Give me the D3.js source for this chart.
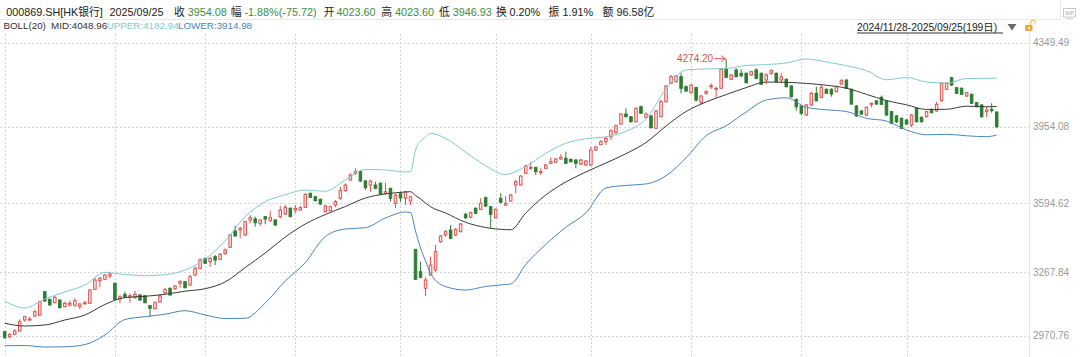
<!DOCTYPE html>
<html><head><meta charset="utf-8">
<script src="https://cdn.jsdelivr.net/npm/d3@7"></script>
<style>
body{margin:0;background:#fff;}
svg{display:block;font-family:Arial,"Liberation Sans","Noto Sans CJK SC",sans-serif;}
</style>
</head><body>
<svg id="c" width="1080" height="357"></svg>
<script>
// ---- DATA ----
const opens = [2989.1,2965.6,2976.9,2992.4,3044.2,3044.2,3063.0,3067.7,3177.4,3141.6,
3125.6,3138.3,3106.8,3114.8,3113.4,3106.8,3120.9,3122.8,3188.7,3229.2,
3235.8,3251.3,3217.0,3143.0,3165.2,3151.1,3149.2,3161.9,3158.6,3111.5,
3097.4,3130.3,3172.7,3193.4,3191.5,3217.0,3224.5,3208.9,3256.0,3287.6,
3334.6,3318.6,3342.2,3329.9,3358.2,3386.4,3463.1,3467.8,3444.3,3514.9,
3519.6,3499.4,3530.4,3511.6,3514.9,3530.4,3543.2,3570.0,3562.0,3562.0,
3574.7,3640.6,3624.6,3612.4,3554.0,3558.7,3585.5,3617.1,3652.8,3703.2,
3734.7,3742.3,3698.5,3679.7,3679.7,3687.7,3640.6,3664.1,3593.5,3638.7,
3617.1,3604.4,3377.0,3271.5,3193.4,3256.0,3279.6,3412.8,3444.3,3467.8,
3444.3,3459.8,3541.7,3527.6,3570.0,3565.3,3619.9,3577.5,3525.7,3617.1,
3585.5,3604.4,3679.7,3679.7,3734.7,3758.3,3763.0,3737.6,3758.3,3781.8,
3786.5,3802.1,3805.4,3800.6,3797.4,3778.5,3773.8,3773.8,3844.4,3869.4,
3883.5,3907.0,3925.9,3966.8,4013.9,4001.2,3977.6,4048.2,3998.4,4004.5,
3946.6,4001.2,4071.8,4158.4,4165.9,4189.5,4142.4,4114.1,4137.7,4067.1,
4111.3,4142.4,4130.1,4134.9,4224.3,4177.2,4221.0,4205.5,4205.5,4197.5,
4221.0,4205.5,4173.9,4205.5,4205.5,4173.9,4177.2,4145.7,4082.1,4051.5,
4009.2,4056.2,4111.3,4092.5,4130.1,4130.1,4118.8,4155.1,4173.9,4130.1,
4051.5,4028.0,4009.2,4059.5,4075.1,4092.5,4075.1,4024.7,4004.5,3993.6,
3985.6,3962.1,4040.7,3998.4,4001.2,4029.4,4028.0,4076.5,4130.1,4184.8,
4137.7,4134.9,4098.6,4106.6,4067.1,4056.2,4024.7,4036.0,4023.60];
const highs = [2991.5,2981.6,3001.8,3047.5,3064.4,3059.7,3091.3,3135.0,3180.0,3145.0,
3157.2,3141.0,3130.3,3135.0,3146.3,3125.6,3133.6,3188.7,3243.3,3248.0,
3259.3,3271.5,3219.8,3161.9,3177.4,3169.9,3180.7,3166.6,3161.9,3114.8,
3130.3,3166.6,3193.4,3196.2,3208.9,3232.5,3227.8,3256.0,3295.1,3334.6,
3337.4,3342.2,3350.2,3359.6,3381.7,3449.0,3486.7,3483.4,3511.6,3538.5,
3530.4,3518.2,3533.7,3558.7,3518.2,3580.8,3585.5,3573.8,3585.5,3580.8,
3640.6,3643.4,3628.0,3615.0,3585.5,3582.0,3609.1,3671.7,3687.7,3734.7,
3758.3,3750.5,3703.2,3703.2,3695.2,3691.5,3690.5,3665.5,3640.6,3648.1,
3651.4,3625.5,3378.4,3318.6,3245.2,3342.2,3397.2,3444.3,3467.8,3491.4,
3475.8,3500.8,3548.0,3554.0,3573.8,3617.1,3625.5,3580.8,3569.0,3640.6,
3627.9,3637.3,3703.2,3725.3,3773.8,3789.3,3764.4,3758.3,3778.5,3810.1,
3806.8,3824.2,3836.4,3804.4,3800.6,3802.1,3797.4,3860.0,3863.2,3891.5,
3907.0,3941.9,3964.5,4018.6,4040.7,4004.0,4044.5,4053.9,4020.0,4009.2,
4032.7,4079.8,4150.4,4197.5,4195.1,4205.5,4148.0,4155.1,4142.4,4103.3,
4126.9,4158.4,4142.4,4228.0,4274.20,4202.2,4230.4,4224.3,4209.0,4217.7,
4229.0,4209.0,4205.5,4224.3,4209.0,4208.3,4181.0,4148.0,4087.8,4056.2,
4061.0,4118.8,4142.4,4150.4,4133.9,4134.9,4148.0,4178.6,4176.3,4133.9,
4056.2,4032.7,4049.2,4067.1,4079.8,4101.0,4079.8,4028.0,4009.2,3997.4,
3990.3,4013.9,4044.5,4002.1,4029.4,4040.7,4071.8,4161.2,4161.2,4188.0,
4141.0,4138.6,4117.4,4110.4,4070.4,4061.0,4048.2,4064.2,4023.60];
const lows = [2958.0,2958.0,2972.2,2989.1,3036.2,3039.5,3059.7,3063.0,3130.0,3112.0,
3122.8,3099.0,3104.0,3106.8,3106.8,3094.6,3114.8,3119.5,3185.4,3198.1,
3232.5,3240.5,3138.3,3122.8,3146.3,3125.6,3143.0,3135.0,3122.8,3059.7,
3094.6,3125.6,3166.6,3158.6,3185.4,3196.2,3193.4,3204.2,3251.3,3282.9,
3307.8,3295.1,3303.1,3326.6,3350.2,3383.1,3436.3,3428.8,3439.6,3499.4,
3483.4,3486.7,3494.7,3506.9,3488.1,3522.9,3538.5,3529.0,3546.5,3557.3,
3571.4,3618.5,3602.0,3585.5,3550.0,3556.0,3574.7,3609.1,3648.1,3699.9,
3726.7,3693.8,3656.1,3648.1,3659.4,3632.6,3632.6,3601.1,3570.0,3601.1,
3585.5,3585.5,3232.5,3240.5,3157.2,3253.7,3271.5,3408.0,3436.3,3424.1,
3439.6,3457.0,3519.6,3524.3,3543.2,3562.0,3576.0,3475.8,3522.9,3593.5,
3580.8,3601.1,3640.6,3677.3,3731.2,3750.3,3726.7,3726.7,3755.0,3778.5,
3783.2,3797.4,3778.5,3785.6,3758.3,3773.8,3769.1,3769.1,3839.7,3867.9,
3867.9,3891.5,3922.0,3962.1,3998.0,3974.0,3974.0,4013.9,3993.6,3945.6,
3943.3,3998.4,4068.0,4155.1,4162.2,4111.3,4117.4,4110.4,4071.8,4059.5,
4103.3,4130.1,4092.5,4131.6,4181.9,4173.9,4185.7,4186.6,4157.5,4192.8,
4177.2,4150.4,4153.7,4197.5,4162.2,4158.4,4138.6,4091.5,4029.4,4009.2,
4004.5,4051.5,4071.8,4087.8,4108.0,4095.3,4115.1,4150.4,4131.6,4056.2,
3999.8,4009.2,4004.5,4045.4,4056.2,4056.2,4004.5,3966.8,3971.5,3943.3,
3962.1,3951.3,3974.0,3974.0,3997.4,4017.2,4024.7,4071.8,4126.9,4145.7,
4108.0,4103.3,4093.9,4061.0,4044.5,3997.4,3998.4,4020.0,3946.93];
const closes = [2960.9,2976.9,2992.4,3036.2,3059.7,3048.9,3083.3,3130.3,3133.6,3114.8,
3151.1,3102.1,3122.8,3122.8,3135.0,3119.5,3125.6,3185.4,3232.5,3240.5,
3256.0,3260.7,3141.6,3153.9,3153.9,3158.6,3165.2,3138.3,3125.6,3099.3,
3127.5,3157.2,3188.7,3161.9,3204.2,3224.5,3196.2,3248.0,3287.6,3326.6,
3311.1,3334.6,3326.6,3353.5,3373.7,3444.3,3439.6,3475.8,3506.9,3525.7,
3502.2,3514.9,3519.6,3525.7,3491.4,3562.0,3574.7,3530.4,3570.0,3572.8,
3635.9,3621.8,3605.8,3590.2,3580.8,3577.5,3601.1,3652.8,3679.7,3726.7,
3742.3,3698.5,3667.0,3698.5,3664.1,3637.3,3648.1,3617.1,3632.6,3618.5,
3648.1,3624.6,3235.8,3245.2,3232.5,3303.1,3365.7,3439.6,3459.8,3428.8,
3471.1,3496.1,3525.7,3549.3,3546.5,3593.5,3580.8,3541.7,3565.3,3598.2,
3593.5,3632.6,3695.2,3722.0,3769.1,3763.0,3742.3,3742.3,3773.8,3789.3,
3802.1,3810.1,3781.8,3789.3,3781.8,3797.4,3792.7,3844.4,3858.5,3883.5,
3899.5,3935.3,3958.8,4013.9,4001.2,3977.6,4040.7,4017.2,4013.9,3949.4,
4028.0,4071.8,4145.7,4189.5,4192.8,4134.9,4122.1,4150.4,4079.8,4098.6,
4118.8,4147.1,4134.9,4224.3,4186.6,4197.5,4189.5,4194.2,4161.2,4213.0,
4181.9,4153.7,4197.5,4217.7,4165.9,4189.5,4142.4,4095.3,4048.2,4017.2,
4056.2,4111.3,4076.5,4139.6,4111.3,4108.0,4142.4,4170.6,4134.9,4061.0,
4004.5,4013.9,4045.4,4064.2,4061.0,4059.5,4009.2,3970.1,3977.6,3946.6,
3966.8,4009.2,3977.6,3977.6,4024.7,4020.0,4059.5,4158.4,4158.4,4150.4,
4111.3,4106.6,4114.1,4064.2,4048.2,4001.2,4032.7,4029.80,3954.08];

// BOLL(20) readings at selected candle positions
const bollIdx = [0,4,8,12,16,20,24,28,32,36,40,44,48,52,56,60,64,68,72,76,80,81,82,83,84,85,88,92,96,100,101,104,108,112,116,120,124,128,132,136,140,144,148,152,156,160,164,168,172,176,180,184,188,192,196,198];
const bollUpper = [3133.6,3100.7,3143.0,3176.0,3208.9,3267.8,3258.4,3252.7,3257.4,3279.6,3331.3,3416.1,3530.4,3601.1,3633.5,3656.1,3650.0,3703.2,3752.6,3750.3,3740.9,3742.3,3844.4,3886.8,3905.6,3923.0,3899.0,3834.1,3770.5,3728.2,3733.8,3766.8,3828.9,3876.0,3897.6,3906.6,3932.4,3990.3,4131.6,4221.5,4225.7,4228.1,4242.2,4246.4,4253.9,4272.8,4258.7,4241.2,4218.2,4174.9,4185.7,4164.5,4159.8,4181.0,4181.9,4182.94];
const bollMid = [3028.7,3016.0,3020.7,3044.2,3067.7,3117.2,3150.1,3155.8,3165.2,3179.8,3191.5,3223.1,3290.9,3359.6,3434.9,3496.1,3540.8,3578.5,3618.5,3637.8,3646.7,3648.1,3630.2,3613.8,3594.9,3577.5,3547.9,3504.1,3479.6,3469.7,3468.8,3547.9,3632.6,3693.8,3740.9,3783.2,3827.0,3879.7,3957.4,4025.6,4070.4,4105.2,4138.1,4164.5,4163.1,4157.9,4149.4,4135.3,4106.6,4077.0,4057.2,4035.1,4036.0,4050.6,4047.8,4048.96];
const bollLower = [2923.2,2924.2,2917.1,2918.0,2928.4,2973.6,3046.6,3059.7,3071.5,3088.0,3067.7,3051.3,3052.2,3124.2,3227.8,3314.4,3437.3,3472.6,3478.7,3524.3,3552.6,3549.3,3463.1,3383.1,3321.9,3264.0,3201.4,3185.4,3201.9,3211.3,3213.7,3305.4,3400.1,3480.6,3547.9,3665.6,3677.8,3684.4,3723.4,3807.7,3911.7,3958.8,4023.3,4079.8,4090.1,4045.4,4033.7,4025.6,3993.6,3980.9,3938.6,3916.0,3918.3,3911.3,3907.0,3914.98];

const yTickValues = [4349.49, 3954.08, 3594.62, 3267.84, 2970.76];
const monthStartIdx = [0, 22, 40, 58, 79, 98, 117, 137, 159, 180];

const headerItems = [
  ["000869.SH[HK银行]","k"],["2025/09/25","k"],["收","k"],["3954.08","g"],["幅","k"],["-1.88%(-75.72)","g"],
  ["开","k"],["4023.60","g"],["高","k"],["4023.60","g"],["低","k"],["3946.93","g"],
  ["换","k"],["0.20%","k"],["振","k"],["1.91%","k"],["额","k"],["96.58亿","k"]
];
const headerX = [6.2,109.5,173.9,187.7,230.7,244.5,323.7,336.4,381.2,395,439,452.8,495.9,509.6,548.6,562.4,602.5,616.5];
const bollLabels = [["BOLL(20)", "mid"],["MID:4048.96","mid"],["UPPER:4182.94","up"],["LOWER:3914.98","low"]];
const bollLabelX = [3.4, 51, 106.7, 178];
const dateRange = "2024/11/28-2025/09/25(199日)";

// ---- STYLE ----
const C = {
  red:"#d9534f", redFill:"#fde9e9", green:"#2e7d32",
  up:"#7fcbcf", mid:"#3a3a3a", low:"#4a86bf",
  grid:"#d6d6d6", axisText:"#9a9a9a", text:"#222", valGreen:"#3b8e41"
};

const svg = d3.select("#c");
svg.append("rect").attr("width",1080).attr("height",357).attr("fill","#fff");

const n = opens.length;
const x = d3.scaleBand().domain(d3.range(n)).range([2.2, 999.2]).paddingInner(0.3).paddingOuter(0.15);
const cx = i => x(i) + x.bandwidth()/2;
const y = d3.scaleLinear().domain([2970.76, 4349.49]).range([335.6, 42.7]);

// header separators
svg.append("line").attr("x1",0).attr("x2",1060).attr("y1",19.5).attr("y2",19.5).attr("stroke","#e8e8e8");
svg.append("line").attr("x1",1060.5).attr("x2",1060.5).attr("y1",0).attr("y2",19.5).attr("stroke","#e8e8e8");

// grid
const grid = svg.append("g");
grid.selectAll("line.h").data(yTickValues).join("line").attr("class","h")
  .attr("x1",0).attr("x2",1029).attr("y1",d=>Math.round(y(d))+0.5).attr("y2",d=>Math.round(y(d))+0.5)
  .attr("stroke",C.grid).attr("stroke-dasharray","2,2");
grid.selectAll("line.v").data(monthStartIdx).join("line").attr("class","v")
  .attr("x1",d=>Math.round(cx(d))+0.5).attr("x2",d=>Math.round(cx(d))+0.5).attr("y1",34).attr("y2",357)
  .attr("stroke",C.grid).attr("stroke-dasharray","2,2");

// right axis
svg.append("line").attr("x1",1029.5).attr("x2",1029.5).attr("y1",34).attr("y2",357).attr("stroke","#e6e6e6");
const ax = svg.append("g").attr("transform","translate(1029,0)")
  .call(d3.axisRight(y).tickValues(yTickValues).tickSize(0).tickPadding(4).tickFormat(d3.format(".2f")));
ax.select(".domain").remove();
ax.selectAll("text").attr("fill",C.axisText).style("font-size","10px").style("font-family","Arial,'Liberation Sans',sans-serif");

// candles
const data = d3.range(n).map(i => ({i, o:opens[i], h:highs[i], l:lows[i], c:closes[i]}));
const cg = svg.append("g");
const cs = cg.selectAll("g").data(data).join("g");
cs.append("line")
  .attr("x1",d=>cx(d.i)).attr("x2",d=>cx(d.i))
  .attr("y1",d=>y(d.h)).attr("y2",d=>y(d.l))
  .attr("stroke",d=>d.c>=d.o?C.red:C.green).attr("stroke-width",1);
cs.append("rect")
  .attr("x",d=>x(d.i)+0.5).attr("width",x.bandwidth()-1)
  .attr("y",d=>y(Math.max(d.o,d.c)))
  .attr("height",d=>Math.max(1, Math.abs(y(d.o)-y(d.c))))
  .attr("fill",d=>d.c>=d.o?C.redFill:C.green)
  .attr("stroke",d=>d.c>=d.o?C.red:C.green).attr("stroke-width",1);

// bollinger lines
const mk = vals => d3.line().x((d,k)=>cx(bollIdx[k])).y(d=>y(d)).curve(d3.curveMonotoneX)(vals);
svg.append("path").attr("d",mk(bollUpper)).attr("fill","none").attr("stroke",C.up).attr("stroke-width",1);
svg.append("path").attr("d",mk(bollMid)).attr("fill","none").attr("stroke",C.mid).attr("stroke-width",1);
svg.append("path").attr("d",mk(bollLower)).attr("fill","none").attr("stroke",C.low).attr("stroke-width",1);

// max annotation
const hi = d3.maxIndex(highs);
const hx = cx(hi), hy = y(highs[hi]);
svg.append("text").attr("x",hx-13).attr("y",hy+3.5).attr("text-anchor","end")
  .attr("fill",C.red).style("font-size","10px").text(d3.format(".2f")(highs[hi]));
svg.append("line").attr("x1",hx-12).attr("x2",hx-1).attr("y1",hy).attr("y2",hy).attr("stroke",C.red);
svg.append("path").attr("d",`M${hx-5},${hy-3}L${hx-1},${hy}L${hx-5},${hy+3}`).attr("fill","none").attr("stroke",C.red);

// header row
svg.append("g").selectAll("text").data(headerItems).join("text")
  .attr("x",(d,k)=>headerX[k]).attr("y",15.5)
  .attr("fill",d=>d[1]==="g"?C.valGreen:C.text)
  .style("font-size","10.8px").text(d=>d[0]);

// boll legend row
svg.append("g").selectAll("text").data(bollLabels).join("text")
  .attr("x",(d,k)=>bollLabelX[k]).attr("y",29)
  .attr("fill",d=>d[1]==="up"?C.up:d[1]==="low"?C.low:"#333")
  .style("font-size","9.8px").text(d=>d[0]);

// date range + icons
const dt = svg.append("text").attr("x",857).attr("y",31).attr("fill",C.text).style("font-size","10.3px").text(dateRange);
const dw = dt.node().getComputedTextLength();
svg.append("line").attr("x1",857).attr("x2",857+dw+6).attr("y1",33).attr("y2",33).attr("stroke","#333");
svg.append("path").attr("d","M1007.5,24L1016.5,24L1012,30.5Z").attr("fill","#6b6b6b");
svg.append("rect").attr("x",1025).attr("y",25).attr("width",7.5).attr("height",6).attr("fill","#f2a93b");
svg.append("path").attr("d","M1030.5,25V22.5A2.4,2.4 0 0 1 1035.3,22.5V23.5").attr("fill","none").attr("stroke","#f2a93b").attr("stroke-width",1);
svg.append("rect").attr("x",1028.2).attr("y",27).attr("width",1.4).attr("height",2).attr("fill","#fff");
svg.append("rect").attr("x",1063.5).attr("y",8.5).attr("width",12).attr("height",8.5).attr("fill","none").attr("stroke","#bdbdbd").attr("stroke-width",0.8);
svg.append("text").attr("x",1069.5).attr("y",15).attr("text-anchor","middle").attr("fill","#aaa").style("font-size","5.5px").text("WP");
svg.append("line").attr("x1",1066).attr("x2",1073).attr("y1",18.8).attr("y2",18.8).attr("stroke","#bdbdbd").attr("stroke-width",0.8);
</script>
</body></html>
